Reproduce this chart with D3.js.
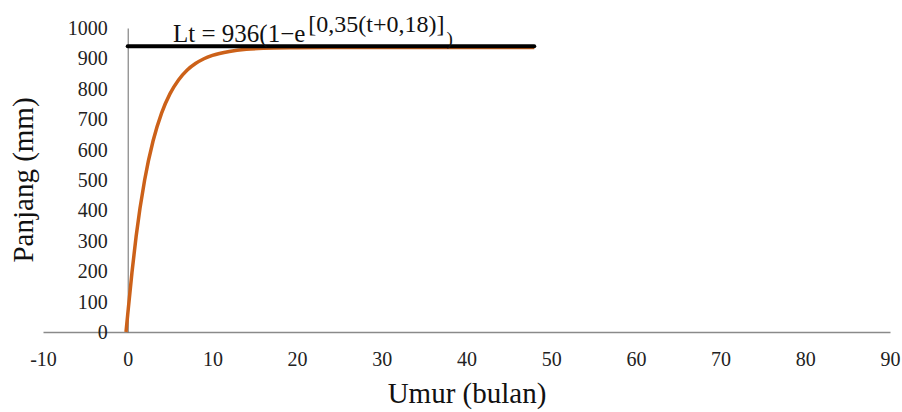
<!DOCTYPE html>
<html>
<head>
<meta charset="utf-8">
<script src="https://cdn.jsdelivr.net/npm/d3@7"></script>
<style>
  body { margin: 0; background: #fff; }
  svg { display: block; }
  svg text { font-family: "Liberation Serif", "Times New Roman", serif; }
</style>
</head>
<body>
<svg id="chart" width="902" height="412"></svg>
<script>
// values
var umur = [-0.2, 0, 0.5, 1, 2, 3, 4, 5, 6, 7, 8, 9, 10, 12, 14, 16, 20, 25, 30, 40, 48];
var panjang = [0, 57, 195, 316, 500, 629, 720, 784, 829, 861, 883, 899, 910, 923, 930, 933, 935, 936, 936, 936, 936];
var lineX = [0, 48];
var lineY = [940, 940];
var xTicks = [-10, 0, 10, 20, 30, 40, 50, 60, 70, 80, 90];
var yTicks = [0, 100, 200, 300, 400, 500, 600, 700, 800, 900, 1000];

var svg = d3.select('#chart');

var x = d3.scaleLinear().domain([-10, 90]).range([43, 890]);
var y = d3.scaleLinear().domain([0, 1000]).range([332, 28]);

var plain = function(d) { return String(d); };

// x axis sits on y = 0
var gx = svg.append('g')
  .attr('transform', 'translate(0,' + y(0) + ')')
  .call(d3.axisBottom(x).tickValues(xTicks).tickFormat(plain).tickSize(0).tickPadding(20).tickSizeOuter(0))
  .attr('font-size', 20);
gx.select('.domain').attr('stroke', '#8a8a8a').attr('stroke-width', 1.6);
gx.selectAll('text').attr('fill', '#222');

// y axis sits on x = 0
var gy = svg.append('g')
  .attr('transform', 'translate(' + x(0) + ',0)')
  .call(d3.axisLeft(y).tickValues(yTicks).tickFormat(plain).tickSize(0).tickPadding(20).tickSizeOuter(0))
  .attr('font-size', 20);
gy.select('.domain').attr('stroke', '#6a6a6a').attr('stroke-width', 1);
gy.selectAll('text').attr('fill', '#222');

// growth curve
var curve = d3.line()
  .x(function(d, i) { return x(umur[i]); })
  .y(function(d) { return y(d); })
  .curve(d3.curveMonotoneX);

svg.append('path')
  .attr('d', curve(panjang))
  .attr('fill', 'none')
  .attr('stroke', '#cc6119')
  .attr('stroke-width', 3.5);

// asymptote line
var flat = d3.line()
  .x(function(d, i) { return x(lineX[i]); })
  .y(function(d) { return y(d); });

svg.append('path')
  .attr('d', flat(lineY))
  .attr('fill', 'none')
  .attr('stroke', '#000')
  .attr('stroke-width', 4)
  .attr('stroke-linecap', 'round');

// equation
var eq = svg.append('text')
  .attr('x', 173)
  .attr('y', 42)
  .attr('font-size', 25)
  .attr('fill', '#111');
eq.append('tspan').text('Lt = 936(1\u2212e');
eq.append('tspan').attr('font-size', 24).attr('dx', 3).attr('dy', -10).text('[0,35(t+0,18)]');
eq.append('tspan').attr('font-size', 19).attr('dx', 2).attr('dy', 13).text(')');

// axis titles
svg.append('text')
  .attr('x', 467)
  .attr('y', 403)
  .attr('text-anchor', 'middle')
  .attr('font-size', 29)
  .attr('fill', '#111')
  .text('Umur (bulan)');

svg.append('text')
  .attr('transform', 'translate(33,180) rotate(-90)')
  .attr('text-anchor', 'middle')
  .attr('font-size', 29)
  .attr('fill', '#111')
  .text('Panjang (mm)');
</script>
</body>
</html>
